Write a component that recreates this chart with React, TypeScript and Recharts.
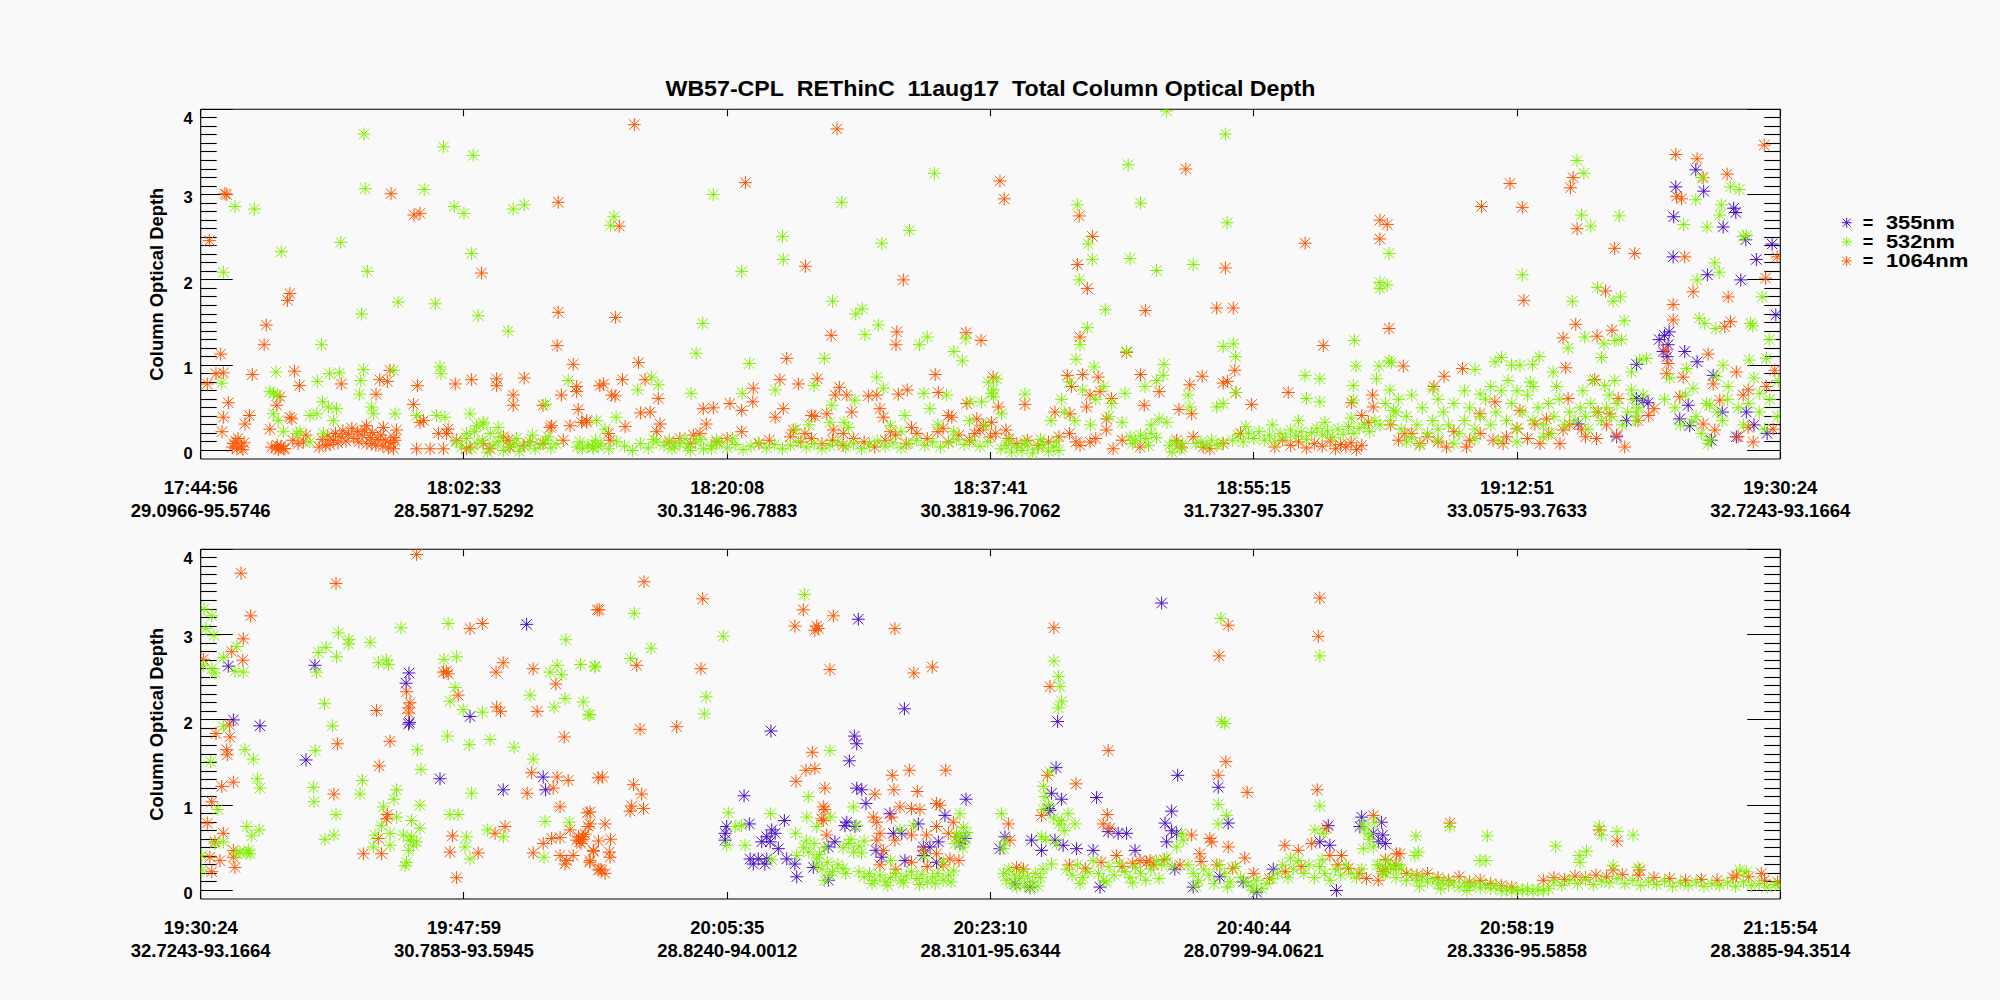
import React from 'react';
import { ScatterChart, Scatter, XAxis, YAxis, ReferenceLine } from 'recharts';

// ---- tick labels ----
const topTimes = ['17:44:56', '18:02:33', '18:20:08', '18:37:41', '18:55:15', '19:12:51', '19:30:24'];
const topPlaces = ['29.0966-95.5746', '28.5871-97.5292', '30.3146-96.7883', '30.3819-96.7062', '31.7327-95.3307', '33.0575-93.7633', '32.7243-93.1664'];
const botTimes = ['19:30:24', '19:47:59', '20:05:35', '20:23:10', '20:40:44', '20:58:19', '21:15:54'];
const botPlaces = ['32.7243-93.1664', '30.7853-93.5945', '28.8240-94.0012', '28.3101-95.6344', '28.0799-94.0621', '28.3336-95.5858', '28.3885-94.3514'];
const xTicks = [0, 100, 200, 300, 400, 500, 600];
const yMajor = [0, 1, 2, 3, 4];
const yMinor = Array.from({ length: 40 }, (_, i) => (i + 1) / 10).filter(v => Math.abs(v - Math.round(v)) > 1e-6);

// ---- wavelengths ----
const wavelengths = ['355nm', '532nm', '1064nm'];
const colors = ['#4a0fcc', '#80f000', '#ff5500'];

// ---- top panel (x = position along track 0..600, y = optical depth) ----
const top355 = [
  [567.9, 3.29], [560.3, 3.09], [570.9, 3.04], [582.3, 2.84], [583.1, 2.79], [559.5, 2.74], [578.3, 2.62], [586.9, 2.47],
  [596.9, 2.42], [590.9, 2.24], [559.3, 2.27], [572.3, 2.06], [585, 2.0], [598.3, 1.59], [557.8, 1.39], [557.4, 1.24],
  [555.5, 1.16], [557, 1.1], [563.7, 1.16], [568.4, 1.04], [545.4, 1.01], [547.9, 0.59], [549.8, 0.56], [545.4, 0.61],
  [523.2, 0.31], [537.8, 0.16], [541.6, 0.35], [565, 0.53], [561.8, 0.37], [565.6, 0.29], [574.5, 0.88], [583.3, 0.16],
  [573.8, 0.12], [587.1, 0.45], [578, 0.45], [590, 0.3], [595, 0.2], [554, 1.3], [556, 1.35],
];
const top532 = [
  [8.6, 2.09], [13, 2.86], [20.4, 2.83], [8, 0.79], [30.6, 2.33], [53.2, 2.44], [62, 3.71], [62.5, 3.07], [63.3, 2.1],
  [61.1, 1.6], [45.9, 1.24], [75, 1.74], [84.9, 3.06], [89.1, 1.72], [92.2, 3.56], [96.3, 2.86], [100, 2.78], [103.5, 3.46],
  [102.9, 2.31], [105.4, 1.58], [116.8, 1.4], [118.7, 2.83], [122.9, 2.88], [28.6, 0.92], [27.6, 0.67], [29.1, 0.65],
  [44.3, 0.81], [48.9, 0.9], [52.7, 0.91], [61.8, 0.95], [60.8, 0.82], [60.3, 0.66], [73.2, 0.94], [90.9, 0.98], [91.3, 0.9],
  [139.6, 0.82], [131, 0.54], [46.3, 0.57], [48.5, 0.51], [51.6, 0.49], [44.1, 0.43], [41.5, 0.41], [64.9, 0.51],
  [65.6, 0.43], [73.8, 0.43], [82, 0.41], [89.6, 0.41], [92.8, 0.39], [102.3, 0.43], [107.3, 0.31], [113, 0.27],
  [31.4, 0.22], [36.5, 0.2], [37.7, 0.22], [41.5, 0.1], [27.6, 0.43], [29.5, 0.35], [46.6, 0.2], [50.4, 0.35], [26.3, 0.69],
  [97, 0.1], [99, 0.04], [101, 0.14], [103, 0.02], [105, 0.08], [107, 0.12], [109, -0.02], [111, 0.06], [113, 0.1],
  [115, 0.0], [117, 0.04], [119, 0.08], [121, -0.01], [123, 0.05], [125, 0.1], [127, 0.02], [129, 0.07], [131, 0.12],
  [133, 0.03], [135, 0.08], [114, 0.16], [120, 0.14], [126, 0.18], [132, 0.16], [110, 0.2], [104, 0.22],
  [143, 0.04], [145, 0.02], [147, 0.06], [149, 0.03], [151, 0.05], [144, 0.1], [150, 0.12], [101, 0.2], [104.8, 0.29], [107.3, 0.33],
  [278.7, 3.25], [243.5, 2.91], [194.7, 3.0], [157, 2.74], [155.7, 2.64], [221, 2.51], [221.3, 2.24], [205.5, 2.1],
  [258.7, 2.43], [269.2, 2.58], [240, 1.75], [248.8, 1.6], [251.3, 1.66], [257.4, 1.47], [252.3, 1.36], [273, 1.24],
  [276, 1.33], [286.1, 1.16], [289.3, 1.05], [290.6, 1.31], [190.7, 1.49], [188.2, 1.14], [208.4, 1.02], [236.9, 1.08],
  [171.3, 0.86], [173.8, 0.77], [166, 0.71], [186.3, 0.67], [205.7, 0.67], [218.2, 0.71], [233, 0.76], [256.8, 0.86],
  [259.3, 0.73], [248.5, 0.59], [274.7, 0.67], [283.3, 0.65], [299.2, 0.8], [301.1, 0.71], [157.8, 0.39], [150.4, 0.35],
  [153.6, 0.25], [239.7, 0.53], [239, 0.33], [244.4, 0.33], [267.5, 0.41], [277, 0.49], [292.2, 0.57], [296.6, 0.57], [301.1, 0.63],
  [149, 0.04], [152, 0.08], [155, 0.02], [158, 0.1], [161, 0.05], [164, 0.0], [167, 0.08], [170, 0.03], [173, 0.1],
  [176, 0.06], [179, 0.02], [182, 0.08], [185, 0.04], [188, 0.1], [191, 0.02], [194, 0.06], [197, 0.09], [200, 0.03],
  [203, 0.07], [206, 0.01], [209, 0.05], [212, 0.09], [215, 0.03], [218, 0.07], [221, 0.02], [224, 0.06], [227, 0.1],
  [230, 0.04], [233, 0.08], [236, 0.02], [239, 0.06], [242, 0.1], [245, 0.04], [248, 0.08], [251, 0.02], [254, 0.07],
  [257, 0.11], [260, 0.05], [263, 0.09], [266, 0.03], [269, 0.08], [272, 0.12], [275, 0.06], [278, 0.1], [281, 0.04],
  [284, 0.09], [287, 0.13], [290, 0.07], [293, 0.11], [296, 0.05], [299, 0.1], [172, 0.13], [178, 0.12], [184, 0.14],
  [190, 0.13], [196, 0.12], [202, 0.14], [180, 0.05], [186, 0.0], [194, 0.02], [226, 0.25], [231, 0.3], [246, 0.27],
  [262, 0.29], [266, 0.22], [280, 0.3], [286, 0.22], [292, 0.35], [298, 0.3],
  [366.9, 3.98], [389.2, 3.71], [352.3, 3.35], [357, 2.9], [333, 2.88], [389.9, 2.67], [337.1, 2.42], [338.7, 2.24],
  [353, 2.25], [363.1, 2.11], [377, 2.18], [333.7, 2.0], [343.6, 1.65], [336.8, 1.44], [334, 1.24], [351.7, 1.16],
  [388.4, 1.22], [392.2, 1.25], [393.1, 1.1], [365.9, 1.01], [332.5, 1.07], [339.4, 0.98], [393.2, 0.68], [438.2, 1.29],
  [438.8, 0.99], [437.8, 0.76], [447.9, 1.97], [450.7, 1.94], [447.9, 1.9], [451.4, 2.31], [419.5, 0.88], [425.1, 0.84],
  [447.6, 0.99], [451.4, 1.05], [446.6, 0.84], [313.1, 0.66], [302.3, 0.84], [300.4, 0.67], [304.2, 0.43], [351.1, 0.67],
  [358.7, 0.75], [363.1, 0.82], [365.6, 0.88], [375.1, 0.65], [375.7, 0.51], [385.9, 0.51], [388.4, 0.55], [420, 0.61],
  [425.1, 0.57], [437.8, 0.59], [451.7, 0.71], [453, 0.47], [330, 0.8], [335, 0.71], [340, 0.6], [343, 0.75], [346, 0.55],
  [328, 0.45], [332, 0.35], [338, 0.3], [345, 0.4], [350, 0.33], [327, 0.6], [323, 0.35],
  [304, 0.02], [306, 0.06], [308, -0.02], [310, 0.04], [312, 0.0], [314, 0.06], [316, -0.03], [318, 0.03], [320, 0.07],
  [322, -0.01], [324, 0.04], [326, 0.0], [307, 0.12], [313, 0.1], [319, 0.13], [325, 0.11], [353, 0.16], [355, 0.12],
  [357, 0.18], [359, 0.14], [361, 0.2], [363, 0.15], [354, 0.08], [360, 0.06], [368, 0.06], [370, 0.1], [372, 0.02],
  [373, 0.08], [369, -0.02], [361, 0.3], [364, 0.37], [367, 0.33], [378, 0.08], [380, 0.1], [382, 0.05], [384, 0.12],
  [386, 0.06], [388, 0.09], [392, 0.12], [394, 0.18], [396, 0.1], [398, 0.2], [400, 0.14], [402, 0.22], [404, 0.12],
  [406, 0.18], [408, 0.1], [410, 0.2], [412, 0.15], [414, 0.24], [416, 0.17], [418, 0.22], [420, 0.13], [422, 0.21],
  [424, 0.26], [426, 0.18], [428, 0.23], [430, 0.15], [432, 0.25], [434, 0.19], [436, 0.28], [438, 0.2], [440, 0.26],
  [442, 0.31], [444, 0.22], [446, 0.35], [448, 0.3], [397, 0.28], [407, 0.3], [417, 0.35], [427, 0.33], [437, 0.38],
  [522.8, 3.4], [525.4, 3.25], [524.5, 2.76], [528, 2.63], [538.8, 2.75], [581.1, 3.09], [584.4, 3.06], [570.2, 3.2],
  [567.9, 2.94], [563.3, 2.65], [572.2, 2.62], [577.6, 2.88], [577, 2.76], [585.9, 2.51], [587.2, 2.52], [575.1, 2.2],
  [576.8, 2.09], [568.4, 2.0], [593.1, 1.8], [569.2, 1.55], [571.3, 1.49], [575.5, 1.43], [588.7, 1.49], [589.5, 1.46],
  [595.8, 1.3], [502, 2.06], [521, 1.75], [530.6, 1.91], [536.5, 1.75], [539.3, 1.8], [540.7, 1.52], [525.7, 1.33],
  [533, 1.25], [537.1, 1.29], [539.7, 1.3], [519.4, 1.2], [532.1, 1.09], [452.3, 1.03], [484, 0.95], [491.6, 1.04],
  [494.1, 1.09], [497.9, 1.0], [501.1, 1.0], [505.9, 1.01], [508.4, 1.1], [513.7, 0.92], [506.1, 0.75], [496.6, 0.82],
  [528.7, 0.82], [533.3, 0.76], [537.1, 0.82], [543.5, 0.92], [549.2, 1.08], [564.4, 0.96], [575.7, 0.87], [578.3, 1.0],
  [588.2, 1.06], [594.7, 1.08], [599.2, 0.82], [546.6, 1.06], [543.5, 0.71], [545.4, 0.45], [566.9, 0.73], [573.2, 0.53],
  [580.2, 0.75], [592.2, 0.67], [572.6, 0.08], [573.2, 0.12], [566.3, 0.33],
  [450, 0.55], [452, 0.35], [454, 0.45], [456, 0.25], [458, 0.4], [460, 0.15], [462, 0.3], [464, 0.5], [466, 0.2],
  [468, 0.35], [470, 0.25], [472, 0.45], [474, 0.3], [476, 0.55], [478, 0.2], [480, 0.35], [482, 0.5], [484, 0.25],
  [486, 0.4], [488, 0.6], [490, 0.3], [492, 0.45], [494, 0.7], [496, 0.35], [498, 0.55], [500, 0.25], [502, 0.45],
  [504, 0.65], [506, 0.35], [508, 0.5], [510, 0.3], [512, 0.55], [514, 0.4], [516, 0.6], [518, 0.3], [520, 0.45],
  [522, 0.35], [524, 0.5], [526, 0.4], [528, 0.55], [530, 0.45], [532, 0.35], [534, 0.5], [536, 0.4], [538, 0.55],
  [540, 0.3], [542, 0.45], [544, 0.6], [546, 0.5], [548, 0.65], [458, 0.1], [463, 0.06], [470, 0.12], [476, 0.08],
  [484, 0.14], [493, 0.12], [500, 0.1], [510, 0.16], [460, 0.65], [470, 0.6], [480, 0.7], [490, 0.75], [500, 0.7],
  [505, 0.8], [515, 0.75], [525, 0.7], [535, 0.65], [455, 0.6], [468, 0.72], [486, 0.66], [513, 0.2], [527, 0.25], [545, 0.35],
  [556, 0.6], [560, 0.5], [564, 0.65], [568, 0.4], [572, 0.55], [576, 0.45], [580, 0.6], [584, 0.5], [588, 0.55],
  [592, 0.45], [596, 0.6], [599, 0.4], [562, 0.3], [570, 0.2], [578, 0.35], [586, 0.3], [594, 0.25], [558, 0.85], [590, 0.85],
];
const top1064 = [
  [3.3, 2.46], [9.2, 3.01], [9.9, 3.0], [7.6, 1.13], [5.8, 0.9], [8.6, 0.91], [2.5, 0.78], [10.5, 0.56], [8.6, 0.39], [8.1, 0.22],
  [12, 0.04], [13.3, 0.11], [13.8, 0.02], [14.2, 0.14], [15.4, 0.05], [16.5, 0.09], [12.6, 0.08], [16, 0.01],
  [18.5, 0.41], [16.8, 0.31], [19.6, 0.89], [24.9, 1.47], [24.1, 1.24], [33.9, 1.84], [33, 1.76], [35.6, 0.93], [37.5, 0.76],
  [30.1, 0.63], [28.9, 0.53], [33.9, 0.39], [34.6, 0.37], [26.3, 0.25], [29.1, 0.06], [31.4, 0.02], [27, 0.04], [28.5, 0.03],
  [30.5, 0.05], [32, 0.02], [29.5, 0.01], [35, 0.12], [37, 0.08], [39, 0.1], [40, 0.18],
  [45, 0.04], [46.2, 0.13], [47.5, 0.06], [48.3, 0.17], [49.1, 0.07], [50.4, 0.12], [51.2, 0.2], [52.1, 0.09], [53.3, 0.16],
  [54, 0.23], [55.2, 0.11], [56.1, 0.19], [57.4, 0.26], [58.2, 0.14], [59.5, 0.22], [60.1, 0.1], [61.3, 0.18], [62.2, 0.24],
  [63.1, 0.08], [64.4, 0.15], [65.2, 0.21], [66.5, 0.06], [67.3, 0.13], [68.4, 0.18], [69.2, 0.05], [70.1, 0.12],
  [71.3, 0.03], [72.2, 0.09], [73.4, 0.15],
  [53.4, 0.78], [72.3, 3.01], [81, 2.76], [83.3, 2.78], [71.9, 0.94], [68, 0.83], [70.9, 0.81], [66.6, 0.66], [82.3, 0.76],
  [80.8, 0.54], [96.7, 0.78], [102.9, 0.83], [106.7, 2.08], [112.4, 0.84], [112.4, 0.76], [118.7, 0.65], [118.7, 0.53],
  [122.9, 0.85], [130, 0.53], [135.8, 2.91], [135.8, 1.62], [135.4, 1.23], [141.5, 1.01], [142.8, 0.75], [142.8, 0.69],
  [137, 0.65], [143.4, 0.48], [133.3, 0.29], [137.7, 0.12], [146.6, 0.33], [151.6, 0.76], [63, 0.29], [65, 0.08],
  [73.2, 0.02], [73.8, 0.12], [74.4, 0.24], [69.4, 0.27], [82, 0.02], [87.1, 0.02], [92.2, 0.02], [93.4, 0.2], [97.2, 0.12],
  [101, 0.02], [102.3, 0.04], [107.3, 0.08], [109.9, 0.02], [116.8, 0.12], [125.1, 0.1], [132.7, 0.27], [140.3, 0.29],
  [144.7, 0.33], [146.6, 0.35], [115, 0.16], [117.5, 0.04], [122.5, 0.06], [130, 0.08], [83.3, 0.33], [84.6, 0.35],
  [90.3, 0.2], [94, 0.25],
  [164.7, 3.82], [241.7, 3.77], [206.9, 3.14], [229.7, 2.16], [266.9, 2.0], [157.6, 1.56], [159, 2.63], [166.3, 1.03],
  [153, 0.78], [160.2, 0.83], [156.1, 0.65], [157.4, 0.64], [168.8, 0.83], [173.8, 0.61], [167.1, 0.44], [170.7, 0.45],
  [174.5, 0.31], [173.2, 0.22], [161.2, 0.28], [154.9, 0.2], [155.5, 0.12], [190.9, 0.49], [194.7, 0.5], [192, 0.31],
  [189.7, 0.2], [187.1, 0.18], [201, 0.55], [205.5, 0.47], [209.7, 0.57], [209.9, 0.73], [205.5, 0.22], [220, 0.83],
  [222.6, 1.08], [227, 0.78], [218.2, 0.39], [221.3, 0.49], [234.2, 0.84], [232, 0.41], [233.3, 0.4], [239.5, 1.35],
  [242.6, 0.74], [241, 0.65], [245.4, 0.65], [247.3, 0.45], [237.8, 0.43], [240.3, 0.24], [244.1, 0.2], [229.5, 0.2],
  [225.1, 0.24], [264.4, 1.39], [264.1, 1.24], [253.6, 0.64], [256.8, 0.65], [265, 0.66], [268.4, 0.71], [258, 0.49],
  [259.3, 0.39], [279, 0.89], [280.2, 0.68], [290.7, 1.38], [296.4, 1.29], [284, 0.41], [285.3, 0.39], [291, 0.55],
  [294.8, 0.37], [297.3, 0.29], [301, 0.86],
  [224, 0.16], [228, 0.1], [232, 0.14], [236, 0.08], [240, 0.12], [244, 0.06], [248, 0.14], [252, 0.1], [256, 0.04],
  [260, 0.12], [264, 0.18], [268, 0.08], [272, 0.2], [276, 0.14], [280, 0.22], [284, 0.1], [288, 0.18], [292, 0.12],
  [296, 0.24], [300, 0.16], [262, 0.22], [270, 0.27], [282, 0.26], [294, 0.2], [178, 0.1], [182, 0.14], [186, 0.08],
  [196, 0.1], [200, 0.14], [212, 0.08], [216, 0.12],
  [303.6, 3.16], [305.2, 2.95], [333.7, 2.75], [338.7, 2.51], [333, 2.18], [336.8, 1.9], [374.2, 3.3], [358.8, 1.64],
  [389.2, 2.14], [385.9, 1.67], [392.2, 1.67], [419.5, 2.43], [447.9, 2.7], [450.7, 2.65], [447.9, 2.48], [451.4, 1.43],
  [426.4, 1.23], [413.1, 0.68], [399.2, 0.54], [334, 1.33], [351.7, 1.15], [357, 0.89], [364.1, 0.69], [375.7, 0.77],
  [380.4, 0.87], [388.4, 0.79], [390, 0.81], [392.8, 0.94], [393.2, 0.68], [371.6, 0.48], [376.4, 0.43], [313.1, 0.54],
  [303, 0.51], [305.9, 0.24], [300.4, 0.33], [329.2, 0.88], [335, 0.89], [340.9, 0.86], [330.8, 0.75], [337.8, 0.65],
  [341.6, 0.69], [346, 0.61], [324.5, 0.45], [330.2, 0.43], [336.5, 0.51], [344.1, 0.37], [332.5, 0.1], [337.8, 0.1],
  [346.6, 0.02], [356.8, 0.04], [358.4, 0.53], [437.1, 0.56], [445.1, 0.65], [441, 0.41], [443.5, 0.33], [445.4, 0.51],
  [414, 0.06], [417, 0.1], [420, 0.03], [423, 0.08], [426, 0.05], [429, 0.11], [431, 0.02], [433, 0.07], [435, 0.04],
  [437, 0.09], [439, 0.01], [441, 0.06], [411, 0.12], [408, 0.04], [302, 0.2], [307, 0.14], [310, 0.08], [314, 0.12],
  [318, 0.06], [322, 0.1], [326, 0.16], [330, 0.2], [334, 0.06], [340, 0.14], [344, 0.24], [350, 0.12], [370.7, 0.12],
  [372.6, 0.04], [377, 0.16], [380.8, 0.04], [383.3, 0.02], [388.4, 0.08], [395, 0.2],
  [593.9, 3.58], [560.3, 3.47], [568.4, 3.42], [579.8, 3.24], [521.3, 3.2], [520.3, 3.08], [497.3, 3.13], [486.5, 2.86],
  [502, 2.85], [560.6, 2.98], [562.5, 2.95], [570.7, 3.2], [522.8, 2.6], [537.1, 2.37], [544.7, 2.31], [563.7, 2.27],
  [594.4, 2.02], [598.8, 2.27], [566.9, 1.86], [580.2, 1.8], [502.6, 1.76], [533.6, 1.87], [559.3, 1.71], [559.3, 1.53],
  [578.9, 1.45], [581.1, 1.51], [522.3, 1.48], [517.5, 1.32], [530.4, 1.34], [536.1, 1.41], [572.6, 1.13], [456.8, 0.99],
  [472.3, 0.87], [479.3, 0.96], [468.4, 0.75], [518.5, 0.97], [529.5, 0.83], [556.5, 1.18], [557.4, 1.02], [556.8, 0.9],
  [583.3, 0.92], [574.5, 0.78], [597.9, 0.94], [563.1, 0.86], [519.4, 0.61], [538.4, 0.61], [561.8, 0.63], [577, 0.59],
  [585.9, 0.65], [587.8, 0.71], [594.7, 0.75], [485.9, 0.43], [491.6, 0.57], [501.1, 0.47], [506.8, 0.31], [511.2, 0.37],
  [517.5, 0.24], [524.5, 0.25], [530.8, 0.45], [535.2, 0.43], [540.9, 0.04], [537.8, 0.18], [570.7, 0.31], [575.1, 0.24],
  [584, 0.16], [589.7, 0.1], [597.3, 0.25], [587.8, 0.27], [457.4, 0.2], [463.1, 0.08], [473.2, 0.04], [480.8, 0.04],
  [490.9, 0.12], [494.7, 0.08], [508.7, 0.08], [516.3, 0.08], [530.2, 0.14], [452, 0.3], [455, 0.12], [460, 0.2],
  [466, 0.16], [470, 0.1], [476, 0.22], [482, 0.12], [486, 0.2], [496, 0.16], [500, 0.26], [504, 0.14], [512, 0.2],
  [520, 0.3], [526, 0.16], [534, 0.3], [546, 0.35], [550, 0.41], [552, 0.49],
];

// ---- bottom panel ----
const bot355 = [
  [10.5, 2.63], [12.4, 2.0], [22.5, 1.93], [43.4, 2.64], [40, 1.53], [79.1, 2.55], [78, 2.43], [79, 1.95], [79.3, 1.97],
  [90.9, 1.31], [123.8, 3.12], [102.3, 2.04], [114.9, 1.18], [130.1, 1.33], [131, 1.18],
  [249.8, 3.18], [267.3, 2.13], [216.6, 1.87], [248.3, 1.81], [249.2, 1.72], [246.4, 1.52], [206.4, 1.11], [249.2, 1.2],
  [251.1, 1.18], [252.7, 1.02], [290.7, 1.07], [208.4, 0.78], [199.8, 0.75], [199.2, 0.67], [199.2, 0.59], [221.7, 0.82],
  [216.9, 0.71], [218.2, 0.67], [215, 0.63], [213.1, 0.57], [219.4, 0.49], [216.3, 0.57], [208.7, 0.37], [209.9, 0.31],
  [211.8, 0.37], [214.3, 0.31], [215, 0.37], [222.6, 0.37], [225.7, 0.31], [226.4, 0.16], [232.7, 0.27], [238.4, 0.12],
  [240.9, 0.57], [238.4, 0.51], [245.4, 0.8], [244.7, 0.76], [248.5, 0.75], [256.5, 0.47], [258.7, 0.39], [261.8, 0.9],
  [263.1, 0.67], [266.3, 0.67], [272.6, 0.78], [274.5, 0.51], [277, 0.51], [280.2, 0.57], [282.7, 0.88], [288.4, 0.55],
  [290.3, 0.61], [274.5, 0.41], [279.5, 0.33], [267.5, 0.35],
  [365, 3.37], [325.5, 1.98], [324.9, 1.44], [371.1, 1.35], [340.3, 1.09], [327, 1.07], [323.2, 1.14], [322, 0.96],
  [322.6, 0.94], [386.5, 1.21], [390.3, 0.79], [428.3, 0.76], [368.8, 0.93], [366.3, 0.79], [368.8, 0.7], [370.7, 0.67],
  [441, 0.86], [440.3, 0.75], [445.4, 0.67], [447.3, 0.57], [305.5, 0.63], [303.6, 0.49], [315.6, 0.59], [319.4, 0.47],
  [324.5, 0.59], [327.6, 0.53], [332.7, 0.49], [339, 0.47], [344.7, 0.69], [348.5, 0.67], [351.7, 0.67], [354.9, 0.47],
  [366.9, 0.57], [370, 0.25], [377, 0.04], [387.1, 0.16], [396, 0.1], [401.1, -0.02], [407.4, 0.25], [431.4, 0.0],
  [425.1, 0.57], [428.9, 0.53], [309.3, 0.08], [315, 0.04], [341.6, 0.04], [448.5, 0.8], [449, 0.65], [450, 0.55],
];
const bot532 = [
  [1.3, 3.3], [4.2, 3.22], [2, 3.07], [5, 2.99], [13.7, 2.86], [8.6, 2.73], [1, 2.64], [4.2, 2.6], [5.4, 2.55], [13, 2.57],
  [16.2, 2.56], [52.3, 3.02], [56.3, 2.94], [56.2, 2.89], [47.6, 2.85], [44.7, 2.79], [51.6, 2.74], [44, 2.56], [64.4, 2.91],
  [76.1, 3.08], [94, 3.13], [67.5, 2.67], [70.6, 2.7], [71.3, 2.65], [92.4, 2.71], [97.2, 2.74], [138.7, 2.94], [135.4, 2.64],
  [132.7, 2.56], [137.1, 2.53], [144.3, 2.65], [149.7, 2.63], [96.6, 2.38], [94.7, 2.22], [99.7, 2.12], [107, 2.09],
  [125.1, 2.29], [138.4, 2.25], [134.2, 2.15], [145.3, 2.21], [147.2, 2.06], [47, 2.19], [50, 1.93], [8.6, 1.92], [93.7, 1.81],
  [102, 1.71], [109.9, 1.77], [119, 1.68], [126.3, 1.54], [82.3, 1.65], [16.8, 1.65], [20, 1.54], [3.8, 1.51], [43.5, 1.64],
  [83.7, 1.42], [61.4, 1.29], [21.5, 1.31], [22.5, 1.2], [42.8, 1.21], [43, 1.04], [60.5, 1.13], [74.4, 1.18], [73.4, 1.07],
  [83.3, 1.0], [69.4, 0.98], [102.9, 1.14], [6.5, 0.95], [51.4, 0.89], [74.4, 0.86], [80.1, 0.82], [83.3, 0.73], [68.7, 0.76],
  [66.2, 0.65], [71.9, 0.67], [77, 0.65], [80.1, 0.63], [82, 0.57], [78.9, 0.47], [78.2, 0.33], [71.9, 0.53], [65.6, 0.51],
  [77.6, 0.29], [79.5, 0.59], [80.8, 0.53], [94.7, 0.89], [97.8, 0.89], [109, 0.71], [115, 0.63], [101, 0.63], [102.3, 0.37],
  [100.4, 0.51], [47.2, 0.6], [50.6, 0.65], [17.5, 0.75], [22.2, 0.71], [19.4, 0.64], [8.6, 0.57], [5.4, 0.55], [14.9, 0.45],
  [17.5, 0.44], [18.7, 0.43], [13.7, 0.43], [0.4, 0.41], [0.4, 0.24], [18.1, 0.47], [130.8, 0.81], [130.4, 0.39], [140, 0.8],
  [149.8, 2.62], [147.9, 2.06], [164.7, 3.25], [171.1, 2.84], [163.3, 2.72], [198.5, 2.98], [192, 2.27], [191.3, 2.07],
  [229.3, 3.47], [239, 1.64], [230.8, 1.1], [200.4, 0.91], [216.5, 0.9], [203, 0.75], [205.5, 0.76], [199.8, 0.53],
  [206.8, 0.53], [226, 0.67], [230.2, 0.86], [234, 0.75], [239.3, 0.86], [247.9, 0.98], [249.2, 0.76], [288.4, 0.9],
  [289.7, 0.74], [216.9, 0.36], [226.4, 0.41], [229, 0.5], [231, 0.45], [233, 0.55], [235, 0.42], [237, 0.5], [230, 0.58],
  [234, 0.38], [234, 0.3], [236, 0.25], [238, 0.33], [240, 0.22], [242, 0.3], [244, 0.26], [239, 0.18], [245, 0.2], [237, 0.12],
  [244, 0.5], [246, 0.55], [248, 0.45], [250, 0.52], [252, 0.58], [247, 0.6], [251, 0.44], [250, 0.22], [252, 0.16], [254, 0.2],
  [256, 0.12], [258, 0.18], [260, 0.1], [262, 0.15], [264, 0.2], [266, 0.12], [268, 0.17], [270, 0.22], [272, 0.14], [274, 0.19],
  [276, 0.1], [278, 0.16], [280, 0.2], [282, 0.12], [284, 0.18], [286, 0.23], [255, 0.08], [261, 0.06], [267, 0.09], [273, 0.07],
  [279, 0.08], [285, 0.1], [286.5, 0.55], [288, 0.62], [289.5, 0.5], [291, 0.68], [290, 0.58], [270.7, 0.76], [265.6, 0.71],
  [287.1, 0.67], [262, 0.35], [275, 0.4], [282, 0.33],
  [304.2, 0.9], [324.1, 2.69], [325.8, 2.51], [326.4, 2.39], [327, 2.22], [325.8, 2.14], [387.5, 3.19], [389, 1.96],
  [387.8, 1.98], [386.5, 1.01], [389.7, 0.88], [386.5, 0.78], [425.1, 2.75], [425.1, 0.99], [320.1, 1.22], [320.7, 1.1],
  [322.6, 1.39], [329.5, 0.9], [332.1, 0.78], [327, 0.82], [323.2, 0.31], [319.4, 0.63], [305.5, 0.57], [304.9, 0.49],
  [372.6, 0.67], [373.2, 0.59], [370.7, 0.51], [423.2, 0.71], [426.4, 0.67], [441.6, 0.78], [443.5, 0.67], [445.4, 0.51],
  [441.6, 0.49], [305, 0.2], [306, 0.12], [307, 0.25], [308, 0.08], [309, 0.18], [310, 0.04], [311, 0.14], [312, 0.22],
  [313, 0.06], [314, 0.16], [315, 0.02], [316, 0.1], [317, 0.2], [318, 0.05], [319, 0.15], [320, 0.25], [329, 0.25],
  [331, 0.18], [333, 0.3], [335, 0.15], [337, 0.22], [339, 0.35], [341, 0.2], [343, 0.12], [345, 0.28], [347, 0.18],
  [349, 0.32], [351, 0.22], [353, 0.15], [355, 0.27], [357, 0.2], [359, 0.12], [361, 0.25], [363, 0.35], [365, 0.3],
  [367, 0.38], [369, 0.28], [334, 0.08], [344, 0.1], [354, 0.09], [364, 0.14], [375, 0.3], [377, 0.2], [379, 0.12],
  [381, 0.25], [383, 0.18], [385, 0.08], [387, 0.3], [389, 0.2], [391, 0.1], [393, 0.28], [395, 0.15], [378, 0.05],
  [390, 0.04], [397, 0.1], [399, 0.05], [401, 0.12], [403, 0.02], [405, 0.08], [407, 0.14], [400, 0.0], [409, 0.2],
  [411, 0.3], [413, 0.15], [415, 0.25], [417, 0.35], [419, 0.2], [421, 0.3], [423, 0.15], [425, 0.28], [427, 0.2],
  [429, 0.12], [431, 0.25], [433, 0.18], [435, 0.3], [437, 0.2], [439, 0.15], [441, 0.25], [414, 0.38], [426, 0.36],
  [447, 0.3], [449, 0.2], [451, 0.35], [453, 0.25], [455, 0.3], [320, 0.95], [322, 1.0], [324, 0.85], [326, 0.78],
  [328, 0.7], [321, 0.6], [325, 0.55], [442, 0.72], [444, 0.6], [446, 0.8],
  [461.6, 0.64], [462.5, 0.45], [461.2, 0.41], [474.5, 0.75], [488.7, 0.64], [485.9, 0.35], [488.2, 0.35], [514.7, 0.52],
  [523.6, 0.41], [523.9, 0.33], [526.4, 0.46], [531.2, 0.75], [532.1, 0.65], [538, 0.69], [544.1, 0.65], [536.5, 0.29],
  [546, 0.27], [584.6, 0.24], [587.1, 0.22], [448, 0.3], [450, 0.2], [452, 0.28], [454, 0.15], [456, 0.25], [458, 0.12],
  [460, 0.18], [462, 0.12], [464, 0.16], [466, 0.1], [468, 0.14], [470, 0.08], [472, 0.12], [474, 0.06], [476, 0.1],
  [478, 0.04], [480, 0.09], [482, 0.05], [484, 0.08], [486, 0.03], [488, 0.07], [490, 0.02], [492, 0.06], [463, 0.05],
  [471, 0.02], [481, 0.0], [494, 0.0], [496, 0.02], [498, -0.01], [500, 0.01], [502, 0.0], [504, 0.02], [506, -0.01],
  [508, 0.01], [510, 0.0], [512, 0.02], [514, 0.1], [517, 0.06], [520, 0.12], [523, 0.08], [526, 0.13], [529, 0.07],
  [532, 0.11], [535, 0.09], [538, 0.14], [541, 0.08], [544, 0.12], [547, 0.06], [550, 0.1], [553, 0.07], [556, 0.11],
  [559, 0.05], [562, 0.09], [565, 0.06], [568, 0.1], [571, 0.05], [574, 0.08], [577, 0.06], [580, 0.09], [583, 0.05],
  [586, 0.1], [589, 0.06], [592, 0.08], [595, 0.04], [598, 0.07], [600, 0.06],
];
const bot1064 = [
  [82, 3.94], [15.3, 3.72], [51.4, 3.6], [19, 3.22], [150.6, 3.29], [16.2, 2.95], [11.8, 2.8], [1, 2.71], [16, 2.7],
  [102.3, 3.07], [107, 3.13], [114.9, 2.67], [112.2, 2.56], [92.2, 2.56], [94, 2.54], [93.3, 2.57], [126.3, 2.6], [134.9, 2.42],
  [78.2, 2.33], [79.5, 2.2], [79, 2.14], [79, 2.08], [97.8, 2.29], [66.8, 2.11], [112.4, 2.15], [113.9, 2.1], [127.8, 2.1],
  [10.9, 1.94], [5.8, 1.84], [11.1, 1.8], [71.9, 1.75], [51.9, 1.72], [138.1, 1.8], [9.9, 1.65], [10.1, 1.59], [67.8, 1.46],
  [125.7, 1.38], [135.4, 1.33], [139.6, 1.29], [151, 1.32], [8, 1.22], [12.4, 1.27], [50.6, 1.13], [124, 1.14], [133.9, 1.2],
  [4.2, 1.04], [136.5, 0.98], [146.8, 0.91], [2.5, 0.79], [70.9, 0.89], [70.6, 0.84], [115.6, 0.75], [111.8, 0.67], [8.6, 0.67],
  [5.4, 0.57], [95.6, 0.64], [94.7, 0.45], [105.4, 0.44], [61.8, 0.43], [68.7, 0.43], [67.5, 0.61], [12.4, 0.47], [12.4, 0.39],
  [7.3, 0.35], [3.5, 0.39], [13, 0.27], [4.2, 0.22], [97.2, 0.15], [126.3, 0.44], [130.1, 0.55], [133.3, 0.61], [136.5, 0.62],
  [140.3, 0.71], [142.8, 0.59], [144, 0.57], [145.3, 0.63], [147.2, 0.75], [149.1, 0.47], [147.8, 0.33], [139, 0.35],
  [138.4, 0.31], [136.5, 0.41], [141.5, 0.41], [151, 0.24], [143.5, 0.63], [145, 0.6], [146, 0.66], [144.5, 0.55],
  [151.4, 3.29], [168.4, 3.62], [190.7, 3.42], [165.6, 2.64], [190, 2.6], [166.9, 1.89], [180.8, 1.92], [152.6, 1.33],
  [164.4, 1.24], [167.5, 1.13], [163.7, 0.99], [163.1, 0.93], [168.2, 0.96], [147.9, 0.92], [153.6, 0.78], [147.9, 0.78],
  [151.1, 0.58], [155.7, 0.6], [149.2, 0.46], [155.2, 0.45], [155.5, 0.39], [147.9, 0.35], [151.7, 0.25], [153.6, 0.2],
  [152.3, 0.24], [228.9, 3.29], [225.7, 3.1], [234, 3.1], [234.6, 3.07], [233.3, 3.05], [240.3, 3.22], [263.7, 3.07],
  [239, 2.59], [270.9, 2.55], [277.9, 2.62], [232.3, 1.62], [229.9, 1.41], [233.3, 1.43], [226.1, 1.28], [237.1, 1.2],
  [262.7, 1.35], [269.2, 1.41], [283, 1.41], [256.1, 1.13], [263.3, 1.18], [272.2, 1.16], [236.5, 0.98], [237.1, 0.95],
  [255.5, 0.86], [256.8, 0.8], [262.4, 0.86], [265.6, 0.98], [270, 0.96], [273.2, 0.95], [279.5, 1.02], [280.8, 1.0],
  [235.9, 0.84], [236.5, 0.82], [258, 0.67], [256.8, 0.59], [263.7, 0.59], [270, 0.65], [275.7, 0.65], [279.5, 0.75],
  [284, 0.67], [285.9, 0.8], [287.1, 0.63], [237.8, 0.65], [259.3, 0.47], [274.5, 0.47], [279.5, 0.43], [284.6, 0.37],
  [258, 0.3], [264, 0.25], [270, 0.33], [276, 0.28], [282, 0.3], [288, 0.35],
  [425.1, 3.43], [424.5, 2.98], [324.1, 3.08], [390.3, 3.11], [386.8, 2.75], [322.6, 2.39], [344.7, 1.64], [389.4, 1.51],
  [386.5, 1.35], [397.5, 1.15], [424.1, 1.18], [332.5, 1.25], [321.6, 1.35], [319.4, 0.88], [306.8, 0.78], [344.4, 0.89],
  [342.8, 0.78], [345.4, 0.73], [376.4, 0.65], [383.3, 0.61], [384, 0.57], [390.3, 0.51], [396.6, 0.38], [445.4, 0.88],
  [427.6, 0.73], [422, 0.55], [411.8, 0.53], [416.9, 0.47], [428.9, 0.41], [433.3, 0.41], [442.8, 0.14], [447.3, 0.12],
  [454.2, 0.43], [356.8, 0.35], [359.3, 0.33], [360.6, 0.35], [347.9, 0.41], [379.5, 0.43], [307.4, 0.59], [309.9, 0.27],
  [312.5, 0.25], [330, 0.3], [336, 0.26], [342, 0.33], [350, 0.28], [354, 0.32], [362, 0.3], [366, 0.36], [372, 0.3],
  [380, 0.34], [386, 0.3], [392, 0.26], [400, 0.2], [406, 0.14], [412, 0.22], [418, 0.28], [432, 0.3], [436, 0.26],
  [440, 0.2], [450, 0.36], [449, 0.22],
  [474.5, 0.79], [531.2, 0.71], [538, 0.58], [455.5, 0.43], [536.5, 0.24], [546.6, 0.24], [583.4, 0.18], [592.8, 0.2],
  [450, 0.25], [454, 0.3], [458, 0.2], [462, 0.18], [466, 0.2], [470, 0.15], [474, 0.12], [478, 0.16], [482, 0.1],
  [486, 0.12], [490, 0.08], [494, 0.06], [498, 0.04], [510, 0.12], [514, 0.15], [518, 0.13], [522, 0.17], [526, 0.15],
  [530, 0.18], [534, 0.16], [540, 0.19], [546, 0.18], [552, 0.15], [558, 0.14], [564, 0.12], [570, 0.13], [576, 0.12],
  [582, 0.15], [588, 0.16], [594, 0.12], [599, 0.1],
];

const toPts = (arr: number[][]) => arr.map(([x, y]) => ({ x, y }));

const FONT = '"Liberation Sans", Arial, Helvetica, sans-serif';
// tick lengths, in axis units (x: 600 units over 1580px, y: 4.1 units over 350px)
const X_PER_PX = 600 / 1579.6;
const Y_PER_PX = 4.1 / 349.7;

function Asterisk({ cx, cy, color, r = 6.5 }: { cx: number; cy: number; color: string; r?: number }) {
  if (cx == null || cy == null) return null;
  const d = r * 0.8;
  return (
    <g stroke={color} strokeWidth={1}>
      <line x1={cx - r} y1={cy} x2={cx + r} y2={cy} />
      <line x1={cx} y1={cy - r} x2={cx} y2={cy + r} />
      <line x1={cx - d} y1={cy - d} x2={cx + d} y2={cy + d} />
      <line x1={cx - d} y1={cy + d} x2={cx + d} y2={cy - d} />
    </g>
  );
}

// crisp 1px black tick line, snapped to the pixel grid
function TickShape(props: any) {
  const { x1, y1, x2, y2 } = props;
  if (x1 == null || y1 == null) return null;
  const snap = (v: number) => Math.round(v - 0.5) + 0.5;
  const horizontal = Math.abs(y1 - y2) < 0.01;
  return horizontal
    ? <line x1={x1} y1={snap(y1)} x2={x2} y2={snap(y1)} stroke="#000" strokeWidth={1.1} />
    : <line x1={snap(x1)} y1={y1} x2={snap(x1)} y2={y2} stroke="#000" strokeWidth={1.1} />;
}

function LeftLabel(props: any) {
  const { x, y, payload } = props;
  const v = payload.value;
  return (
    <text x={x - 8} y={y + (v === 4 ? 14.7 : 8.7)} textAnchor="end" fontFamily={FONT} fontWeight="bold" fontSize={16.5} fill="#000">
      {v}
    </text>
  );
}

function makeBottomLabel(times: string[], places: string[]) {
  return function BottomLabel(props: any) {
    const { x, y, index } = props;
    return (
      <g>
        <text x={x} y={y + 35.3} textAnchor="middle" fontFamily={FONT} fontWeight="bold" fontSize={18.5} fill="#000">
          {times[index]}
        </text>
        <text x={x} y={y + 58.3} textAnchor="middle" fontFamily={FONT} fontWeight="bold" fontSize={18.5} fill="#000">
          {places[index]}
        </text>
      </g>
    );
  };
}

function Panel({ series, times, places, height }: { series: number[][][]; times: string[]; places: string[]; height: number }) {
  const axisLine = { stroke: '#000', strokeWidth: 1.1 };
  // draw order: 355, 1064, 532
  const order = [0, 2, 1];
  const yTickMarks = [
    ...yMajor.map(v => ({ v, len: 32 })),
    ...yMinor.map(v => ({ v, len: 16 })),
  ];
  const tickProps = { xAxisId: 'b', yAxisId: 'l', stroke: '#000', ifOverflow: 'visible' as const, shape: TickShape };
  // every axis is 1px thick so that it still renders; margins are reduced to match
  return (
    <ScatterChart width={2000} height={height} margin={{ top: 108.3, right: 218.7, bottom: height - 460, left: 199.7 }}>
      <XAxis xAxisId="b" type="number" dataKey="x" domain={[0, 600]} ticks={xTicks} interval={0} orientation="bottom"
        height={1} tickSize={0} tickMargin={0} axisLine={axisLine} tickLine={false} allowDataOverflow
        tick={makeBottomLabel(times, places)} />
      <XAxis xAxisId="t" type="number" dataKey="x" domain={[0, 600]} ticks={xTicks} interval={0} orientation="top"
        height={1} tickSize={0} tickMargin={0} axisLine={axisLine} tickLine={false} allowDataOverflow tick={false} />
      <YAxis yAxisId="l" type="number" dataKey="y" domain={[-0.1, 4]} ticks={yMajor} interval={0} orientation="left"
        width={1} tickSize={0} tickMargin={0} axisLine={axisLine} tickLine={false} allowDataOverflow tick={LeftLabel} />
      <YAxis yAxisId="r" type="number" dataKey="y" domain={[-0.1, 4]} ticks={yMajor} interval={0} orientation="right"
        width={1} tickSize={0} tickMargin={0} axisLine={axisLine} tickLine={false} allowDataOverflow tick={false} />
      {yTickMarks.map(({ v, len }) => (
        <ReferenceLine key={`l${v}`} {...tickProps} segment={[{ x: 0, y: v }, { x: len * X_PER_PX, y: v }]} />
      ))}
      {yTickMarks.map(({ v, len }) => (
        <ReferenceLine key={`r${v}`} {...tickProps}
          segment={[{ x: 600 - (len === 32 ? 33 : 16) * X_PER_PX, y: v }, { x: 600, y: v }]} />
      ))}
      {xTicks.map(v => (
        <ReferenceLine key={`b${v}`} {...tickProps} segment={[{ x: v, y: -0.1 }, { x: v, y: -0.1 + 7 * Y_PER_PX }]} />
      ))}
      {xTicks.map(v => (
        <ReferenceLine key={`t${v}`} {...tickProps} segment={[{ x: v, y: 4 - 7 * Y_PER_PX }, { x: v, y: 4 }]} />
      ))}
      {order.map(i => (
        <Scatter key={wavelengths[i]} name={wavelengths[i]} data={toPts(series[i])} xAxisId="b" yAxisId="l"
          isAnimationActive={false}
          shape={(p: any) => <Asterisk cx={p.cx} cy={p.cy} color={colors[i]} />} />
      ))}
    </ScatterChart>
  );
}

export default function App() {
  return (
    <div style={{ position: 'relative', width: 2000, height: 1000, background: '#f9f9f9', overflow: 'hidden' }}>
      <style>{'body{margin:0;background:#f9f9f9}'}</style>
      <div style={{ position: 'absolute', left: 0, top: 0 }}>
        <Panel series={[top355, top532, top1064]} times={topTimes} places={topPlaces} height={540} />
      </div>
      <div style={{ position: 'absolute', left: 0, top: 440 }}>
        <Panel series={[bot355, bot532, bot1064]} times={botTimes} places={botPlaces} height={560} />
      </div>
      <svg width={2000} height={1000} style={{ position: 'absolute', left: 0, top: 0, pointerEvents: 'none' }}>
        <text x={990.5} y={95.7} textAnchor="middle" fontFamily={FONT} fontWeight="bold" fontSize={22.5}
          textLength={650} lengthAdjust="spacingAndGlyphs" fill="#000">
          WB57-CPL{'\u00a0\u00a0'}REThinC{'\u00a0\u00a0'}11aug17{'\u00a0\u00a0'}Total Column Optical Depth
        </text>
        {[284.2, 724.2].map(cy => (
          <text key={cy} transform={`translate(163,${cy}) rotate(-90)`} textAnchor="middle" fontFamily={FONT}
            fontWeight="bold" fontSize={18.5} textLength={193} lengthAdjust="spacingAndGlyphs" fill="#000">
            Column Optical Depth
          </text>
        ))}
        {wavelengths.map((w, i) => {
          const cy = 222.7 + i * 19.2;
          return (
            <g key={w}>
              <Asterisk cx={1846.7} cy={cy} color={colors[i]} r={5} />
              <text x={1862.7} y={cy + 6} fontFamily={FONT} fontWeight="bold" fontSize={18} fill="#000">=</text>
              <text x={1886} y={cy + 6} fontFamily={FONT} fontWeight="bold" fontSize={18} fill="#000"
                textLength={w.length === 5 ? 69 : 82.3} lengthAdjust="spacingAndGlyphs">{w}</text>
            </g>
          );
        })}
      </svg>
    </div>
  );
}
